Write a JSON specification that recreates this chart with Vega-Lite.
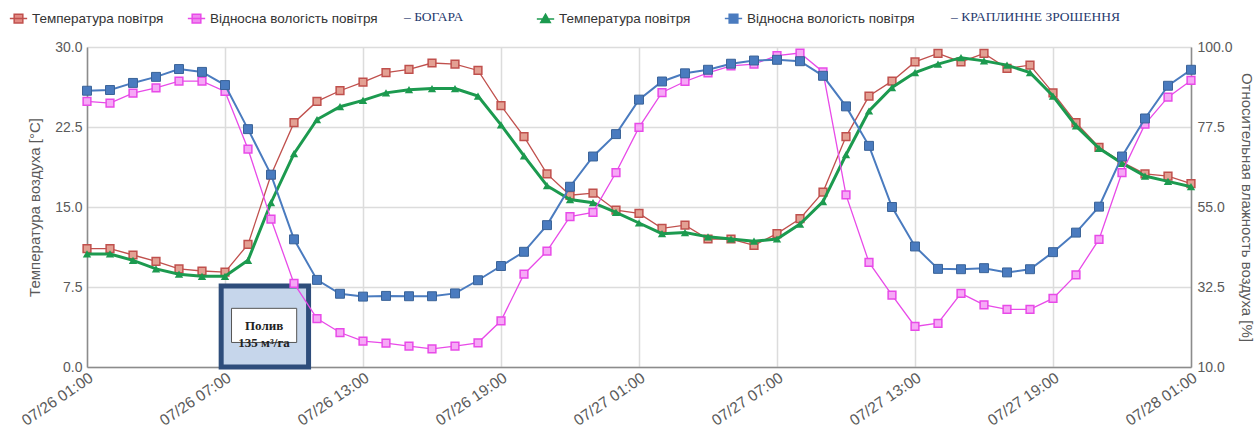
{
  "$schema": "https://vega.github.io/schema/vega-lite/v6.json",
  "width": 1104,
  "height": 320,
  "autosize": {"type": "none"},
  "padding": {"left": 87, "top": 47, "right": 68, "bottom": 72},
  "background": "white",
  "config": {
    "view": {"stroke": null},
    "font": "Liberation Sans",
    "axis": {"labelFont": "Liberation Sans", "titleFont": "Liberation Sans", "labelColor": "#5a5a5a", "titleColor": "#5a5a5a", "titleFontWeight": "normal", "gridColor": "#dcdcdc", "gridWidth": 1.5, "domainColor": "#8c8c8c", "domainWidth": 1.5, "ticks": false}
  },
  "datasets": {
    "climate": [
      {"time": "2020-07-26T01:00", "t_bog": 11.1, "t_drip": 10.6, "h_bog": 84.7, "h_drip": 87.7},
      {"time": "2020-07-26T02:00", "t_bog": 11.1, "t_drip": 10.6, "h_bog": 84.2, "h_drip": 87.9},
      {"time": "2020-07-26T03:00", "t_bog": 10.5, "t_drip": 10.0, "h_bog": 87.0, "h_drip": 89.9},
      {"time": "2020-07-26T04:00", "t_bog": 9.9, "t_drip": 9.2, "h_bog": 88.5, "h_drip": 91.6},
      {"time": "2020-07-26T05:00", "t_bog": 9.2, "t_drip": 8.7, "h_bog": 90.4, "h_drip": 93.8},
      {"time": "2020-07-26T06:00", "t_bog": 9.0, "t_drip": 8.5, "h_bog": 90.4, "h_drip": 93.0},
      {"time": "2020-07-26T07:00", "t_bog": 8.9, "t_drip": 8.5, "h_bog": 87.5, "h_drip": 89.3},
      {"time": "2020-07-26T08:00", "t_bog": 11.5, "t_drip": 10.0, "h_bog": 71.3, "h_drip": 76.9},
      {"time": "2020-07-26T09:00", "t_bog": 18.0, "t_drip": 15.4, "h_bog": 51.6, "h_drip": 64.1},
      {"time": "2020-07-26T10:00", "t_bog": 22.9, "t_drip": 20.0, "h_bog": 33.5, "h_drip": 45.9},
      {"time": "2020-07-26T11:00", "t_bog": 24.9, "t_drip": 23.2, "h_bog": 23.6, "h_drip": 34.5},
      {"time": "2020-07-26T12:00", "t_bog": 25.9, "t_drip": 24.4, "h_bog": 19.7, "h_drip": 30.6},
      {"time": "2020-07-26T13:00", "t_bog": 26.7, "t_drip": 25.0, "h_bog": 17.3, "h_drip": 29.8},
      {"time": "2020-07-26T14:00", "t_bog": 27.6, "t_drip": 25.7, "h_bog": 16.7, "h_drip": 30.0},
      {"time": "2020-07-26T15:00", "t_bog": 27.9, "t_drip": 26.0, "h_bog": 15.9, "h_drip": 29.9},
      {"time": "2020-07-26T16:00", "t_bog": 28.5, "t_drip": 26.1, "h_bog": 15.1, "h_drip": 29.9},
      {"time": "2020-07-26T17:00", "t_bog": 28.4, "t_drip": 26.1, "h_bog": 15.9, "h_drip": 30.7},
      {"time": "2020-07-26T18:00", "t_bog": 27.8, "t_drip": 25.4, "h_bog": 16.8, "h_drip": 34.4},
      {"time": "2020-07-26T19:00", "t_bog": 24.5, "t_drip": 22.7, "h_bog": 23.0, "h_drip": 38.4},
      {"time": "2020-07-26T20:00", "t_bog": 21.6, "t_drip": 19.8, "h_bog": 36.1, "h_drip": 42.4},
      {"time": "2020-07-26T21:00", "t_bog": 18.1, "t_drip": 17.0, "h_bog": 42.6, "h_drip": 49.9},
      {"time": "2020-07-26T22:00", "t_bog": 16.1, "t_drip": 15.7, "h_bog": 52.3, "h_drip": 60.7},
      {"time": "2020-07-26T23:00", "t_bog": 16.3, "t_drip": 15.4, "h_bog": 53.5, "h_drip": 69.2},
      {"time": "2020-07-27T00:00", "t_bog": 14.7, "t_drip": 14.5, "h_bog": 64.7, "h_drip": 75.5},
      {"time": "2020-07-27T01:00", "t_bog": 14.4, "t_drip": 13.5, "h_bog": 77.4, "h_drip": 85.2},
      {"time": "2020-07-27T02:00", "t_bog": 13.0, "t_drip": 12.5, "h_bog": 87.2, "h_drip": 90.3},
      {"time": "2020-07-27T03:00", "t_bog": 13.3, "t_drip": 12.6, "h_bog": 90.3, "h_drip": 92.6},
      {"time": "2020-07-27T04:00", "t_bog": 12.0, "t_drip": 12.2, "h_bog": 92.7, "h_drip": 93.6},
      {"time": "2020-07-27T05:00", "t_bog": 12.0, "t_drip": 12.0, "h_bog": 94.7, "h_drip": 95.3},
      {"time": "2020-07-27T06:00", "t_bog": 11.4, "t_drip": 11.8, "h_bog": 95.2, "h_drip": 96.2},
      {"time": "2020-07-27T07:00", "t_bog": 12.5, "t_drip": 12.0, "h_bog": 97.6, "h_drip": 96.4},
      {"time": "2020-07-27T08:00", "t_bog": 13.9, "t_drip": 13.4, "h_bog": 98.3, "h_drip": 96.0},
      {"time": "2020-07-27T09:00", "t_bog": 16.4, "t_drip": 15.5, "h_bog": 93.0, "h_drip": 91.9},
      {"time": "2020-07-27T10:00", "t_bog": 21.6, "t_drip": 19.9, "h_bog": 58.4, "h_drip": 83.3},
      {"time": "2020-07-27T11:00", "t_bog": 25.4, "t_drip": 24.0, "h_bog": 39.4, "h_drip": 72.2},
      {"time": "2020-07-27T12:00", "t_bog": 26.8, "t_drip": 26.2, "h_bog": 30.2, "h_drip": 55.0},
      {"time": "2020-07-27T13:00", "t_bog": 28.6, "t_drip": 27.6, "h_bog": 21.4, "h_drip": 43.9},
      {"time": "2020-07-27T14:00", "t_bog": 29.4, "t_drip": 28.4, "h_bog": 22.3, "h_drip": 37.6},
      {"time": "2020-07-27T15:00", "t_bog": 28.6, "t_drip": 29.0, "h_bog": 30.7, "h_drip": 37.5},
      {"time": "2020-07-27T16:00", "t_bog": 29.4, "t_drip": 28.7, "h_bog": 27.5, "h_drip": 37.8},
      {"time": "2020-07-27T17:00", "t_bog": 28.0, "t_drip": 28.3, "h_bog": 26.2, "h_drip": 36.6},
      {"time": "2020-07-27T18:00", "t_bog": 28.3, "t_drip": 27.6, "h_bog": 26.2, "h_drip": 37.5},
      {"time": "2020-07-27T19:00", "t_bog": 25.7, "t_drip": 25.4, "h_bog": 29.3, "h_drip": 42.3},
      {"time": "2020-07-27T20:00", "t_bog": 22.9, "t_drip": 22.6, "h_bog": 35.9, "h_drip": 47.8},
      {"time": "2020-07-27T21:00", "t_bog": 20.6, "t_drip": 20.5, "h_bog": 45.9, "h_drip": 55.1},
      {"time": "2020-07-27T22:00", "t_bog": 19.2, "t_drip": 19.1, "h_bog": 64.7, "h_drip": 69.2},
      {"time": "2020-07-27T23:00", "t_bog": 18.1, "t_drip": 17.9, "h_bog": 78.3, "h_drip": 79.9},
      {"time": "2020-07-28T00:00", "t_bog": 17.9, "t_drip": 17.4, "h_bog": 85.9, "h_drip": 89.1},
      {"time": "2020-07-28T01:00", "t_bog": 17.2, "t_drip": 16.9, "h_bog": 90.6, "h_drip": 93.6}
    ],
    "note": [
      {"start": "2020-07-26T06:50", "end": "2020-07-26T10:38", "low": 0.0, "high": 7.6,
       "in_start": "2020-07-26T07:17", "in_end": "2020-07-26T10:07", "in_low": 2.3, "in_high": 5.5,
       "mid": "2020-07-26T08:42", "level": 3.85, "label": ["Полив", "135 м³/га"]}
    ]
  },
  "encoding": {
    "x": {
      "field": "time", "type": "temporal",
      "scale": {"domain": [{"year": 2020, "month": 7, "date": 26, "hours": 1}, {"year": 2020, "month": 7, "date": 28, "hours": 1}]},
      "axis": {
        "title": null, "format": "%m/%d %H:%M", "labelAngle": -34, "labelAlign": "right", "labelBaseline": "top",
        "labelFontSize": 15.5, "labelPadding": 3, "grid": true, "labelFlush": false, "labelOverlap": false,
        "values": [
          {"year": 2020, "month": 7, "date": 26, "hours": 1},
          {"year": 2020, "month": 7, "date": 26, "hours": 7},
          {"year": 2020, "month": 7, "date": 26, "hours": 13},
          {"year": 2020, "month": 7, "date": 26, "hours": 19},
          {"year": 2020, "month": 7, "date": 27, "hours": 1},
          {"year": 2020, "month": 7, "date": 27, "hours": 7},
          {"year": 2020, "month": 7, "date": 27, "hours": 13},
          {"year": 2020, "month": 7, "date": 27, "hours": 19},
          {"year": 2020, "month": 7, "date": 28, "hours": 1}
        ]
      }
    }
  },
  "layer": [
    {
      "data": {"name": "climate"},
      "encoding": {
        "y": {
          "type": "quantitative",
          "scale": {"domain": [0, 30], "nice": false, "zero": false},
          "axis": {"title": "Температура воздуха [°C]", "values": [0, 7.5, 15, 22.5, 30], "format": ".1f", "labelFontSize": 14, "titleFontSize": 15, "labelPadding": 5, "titlePadding": 12, "grid": true}
        }
      },
      "layer": [
        {
          "mark": {"type": "line", "strokeWidth": 1.3},
          "encoding": {
            "y": {"field": "t_bog"},
            "stroke": {
              "datum": "temp_bog",
              "scale": {"domain": ["temp_bog", "hum_bog"], "range": ["#c0504d", "#e84ae8"]},
              "legend": {
                "orient": "none", "legendX": -78, "legendY": -38, "direction": "horizontal",
                "labelExpr": "datum.value == 'temp_bog' ? 'Температура повітря' : 'Відносна вологість повітря'",
                "title": "– БОГАРА", "titleOrient": "right", "titleFont": "Liberation Serif", "titleFontSize": 13.5, "titleFontWeight": "normal", "titleColor": "#1f3a6e", "titlePadding": 26, "titleBaseline": "middle", "titleLimit": 400,
                "labelFont": "Liberation Sans", "labelFontSize": 13.5, "labelColor": "#333333", "labelLimit": 400, "labelOffset": 4,
                "columnPadding": 20, "symbolSize": 300, "symbolStrokeWidth": 1.5,
                "symbolType": "M-1,0H1M-0.5,-0.5H0.5V0.5H-0.5Z",
                "encode": {"symbols": {"update": {"fill": {"signal": "datum.value == 'temp_bog' ? '#e38b84' : '#f08af0'"}}}}
              }
            }
          }
        },
        {
          "mark": {"type": "point", "shape": "square", "size": 60, "filled": false, "fill": "#e3a093", "fillOpacity": 1, "strokeWidth": 1.5},
          "encoding": {"y": {"field": "t_bog"}, "stroke": {"datum": "temp_bog"}}
        },
        {
          "mark": {"type": "line", "strokeWidth": 3},
          "encoding": {
            "y": {"field": "t_drip"},
            "color": {
              "datum": "temp_drip",
              "scale": {"domain": ["temp_drip", "hum_drip"], "range": ["#1c9a4f", "#4a7bbf"]},
              "legend": {
                "orient": "none", "legendX": 449, "legendY": -38, "direction": "horizontal",
                "labelExpr": "datum.value == 'temp_drip' ? 'Температура повітря' : 'Відносна вологість повітря'",
                "title": "– КРАПЛИННЕ  ЗРОШЕННЯ", "titleOrient": "right", "titleFont": "Liberation Serif", "titleFontSize": 13.5, "titleFontWeight": "normal", "titleColor": "#1f3a6e", "titlePadding": 36, "titleBaseline": "middle", "titleLimit": 400,
                "labelFont": "Liberation Sans", "labelFontSize": 13.5, "labelColor": "#333333", "labelLimit": 400, "labelOffset": 4,
                "columnPadding": 30, "symbolSize": 300, "symbolStrokeWidth": 1.5,
                "encode": {"symbols": {"update": {
                  "shape": {"signal": "datum.value == 'temp_drip' ? 'M-1,0H1M0,-0.55L0.55,0.4H-0.55Z' : 'M-1,0H1M-0.5,-0.5H0.5V0.5H-0.5Z'"},
                  "fill": {"signal": "datum.value == 'temp_drip' ? '#1c9a4f' : '#4a7bbf'"},
                  "stroke": {"signal": "datum.value == 'temp_drip' ? '#1c9a4f' : '#4a7bbf'"}
                }}}
              }
            }
          }
        },
        {
          "mark": {"type": "point", "shape": "triangle-up", "size": 70, "filled": true, "fillOpacity": 1},
          "encoding": {"y": {"field": "t_drip"}, "color": {"datum": "temp_drip"}}
        },
        {
          "data": {"name": "note"},
          "mark": {"type": "rect", "fill": "#c6d6eb", "stroke": "#2e4d7b", "strokeWidth": 5, "clip": false},
          "encoding": {"x": {"field": "start", "type": "temporal"}, "x2": {"field": "end"}, "y": {"field": "low"}, "y2": {"field": "high"}}
        },
        {
          "data": {"name": "note"},
          "mark": {"type": "rect", "fill": "#ffffff", "stroke": "#555555", "strokeWidth": 1},
          "encoding": {"x": {"field": "in_start", "type": "temporal"}, "x2": {"field": "in_end"}, "y": {"field": "in_low"}, "y2": {"field": "in_high"}}
        },
        {
          "data": {"name": "note"},
          "mark": {"type": "text", "font": "Liberation Serif", "fontSize": 13, "fontWeight": "bold", "color": "#222222", "align": "center", "baseline": "middle", "lineHeight": 17},
          "encoding": {"x": {"field": "mid", "type": "temporal"}, "y": {"field": "level"}, "text": {"field": "label"}}
        }
      ]
    },
    {
      "data": {"name": "climate"},
      "encoding": {
        "y": {
          "type": "quantitative",
          "scale": {"domain": [10, 100], "nice": false, "zero": false},
          "axis": {"orient": "right", "title": "Относительная влажность воздуха [%]", "values": [10, 32.5, 55, 77.5, 100], "format": ".1f", "labelFontSize": 14, "titleFontSize": 15, "labelPadding": 6, "titlePadding": 6, "grid": false}
        }
      },
      "layer": [
        {
          "mark": {"type": "line", "strokeWidth": 1.3},
          "encoding": {"y": {"field": "h_bog"}, "stroke": {"datum": "hum_bog"}}
        },
        {
          "mark": {"type": "point", "shape": "square", "size": 60, "filled": false, "fill": "#f6a8f6", "fillOpacity": 1, "strokeWidth": 1.5},
          "encoding": {"y": {"field": "h_bog"}, "stroke": {"datum": "hum_bog"}}
        },
        {
          "mark": {"type": "line", "strokeWidth": 2},
          "encoding": {"y": {"field": "h_drip"}, "color": {"datum": "hum_drip"}}
        },
        {
          "mark": {"type": "point", "shape": "square", "size": 80, "filled": true, "fillOpacity": 1, "stroke": "#3a6398", "strokeWidth": 1},
          "encoding": {"y": {"field": "h_drip"}, "color": {"datum": "hum_drip"}}
        }
      ]
    }
  ],
  "resolve": {"scale": {"y": "independent"}}
}
